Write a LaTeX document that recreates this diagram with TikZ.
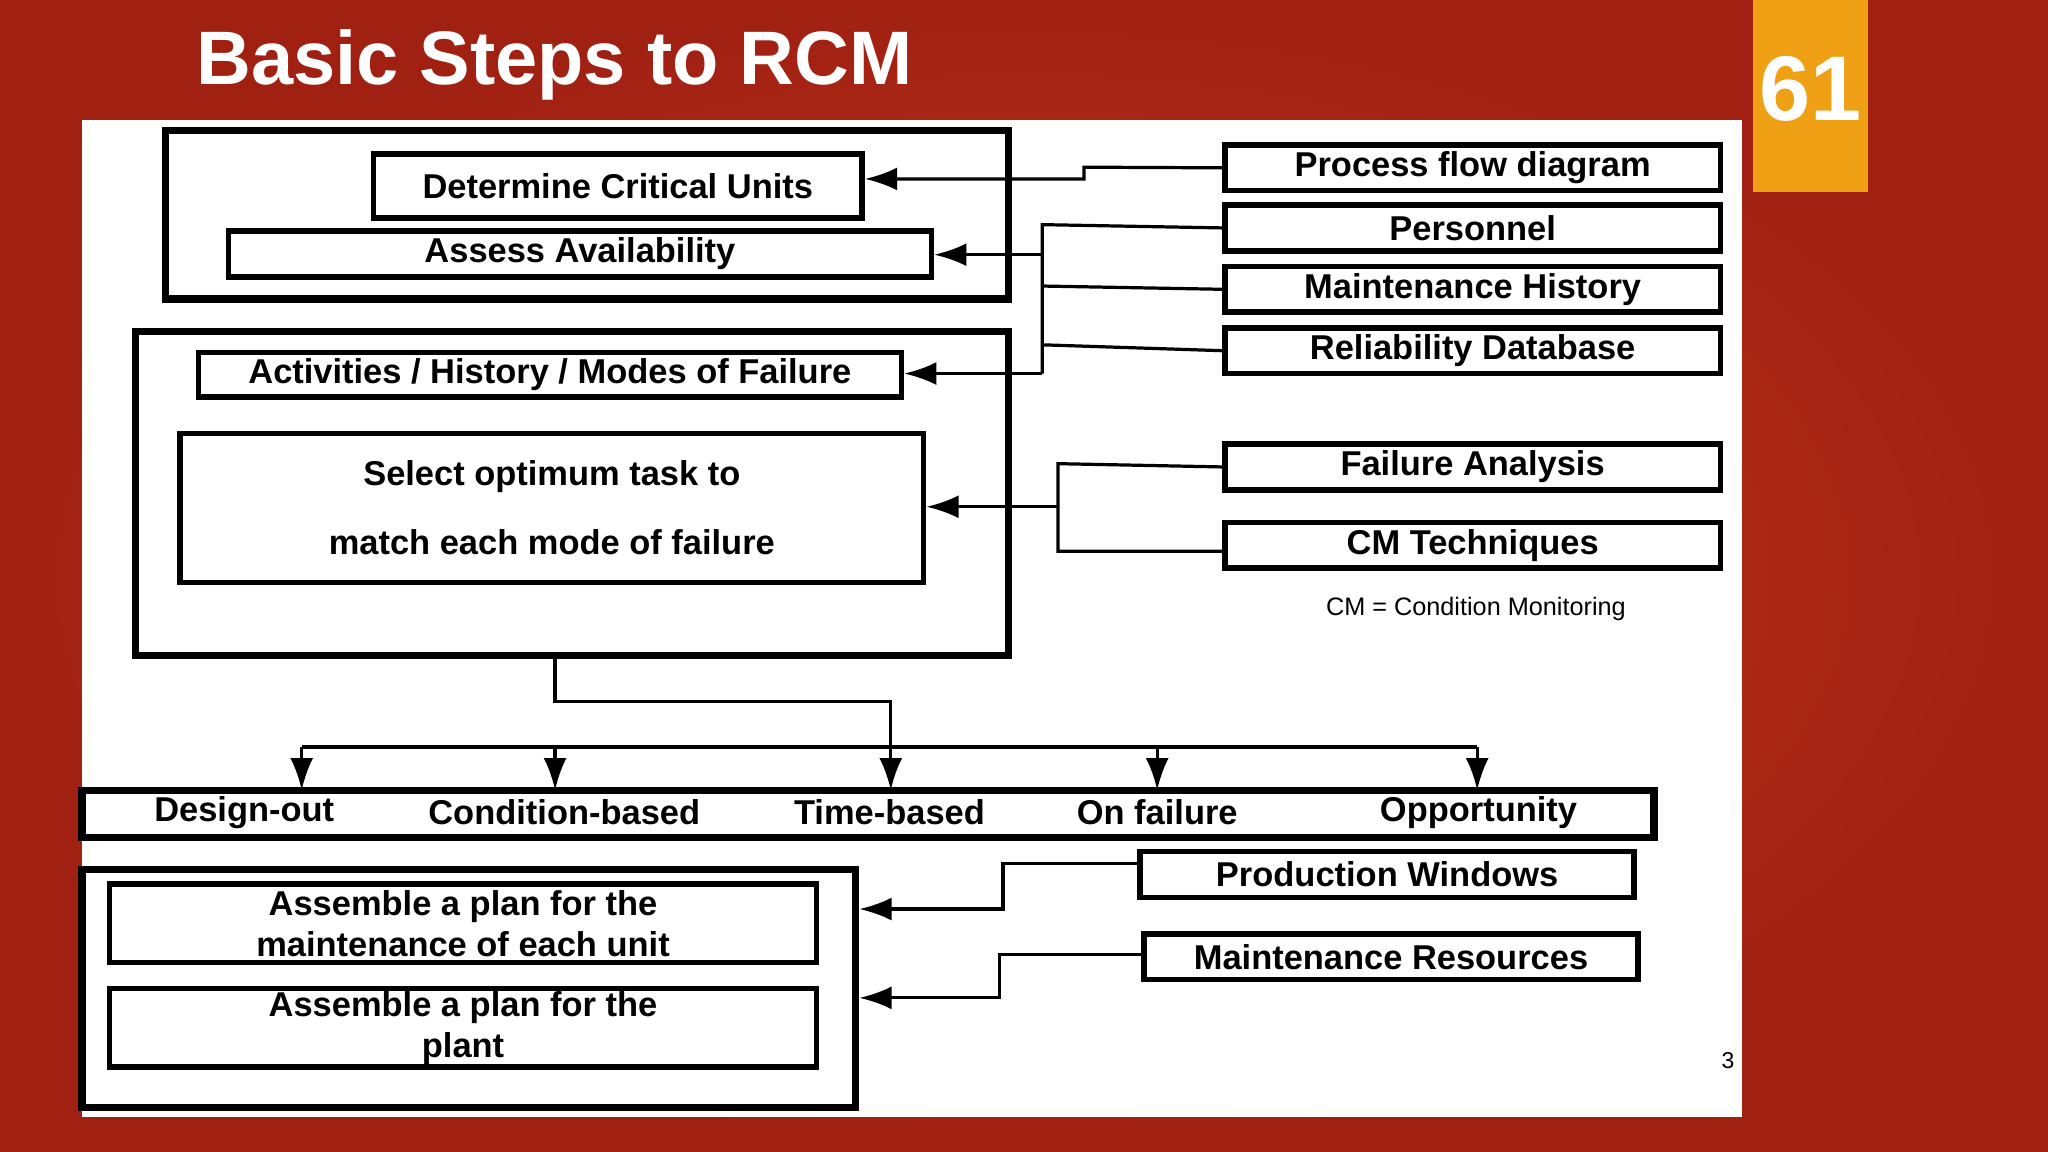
\documentclass[tikz,border=0pt]{standalone}
\usepackage{fontspec}
\setmainfont{Liberation Sans}
\usetikzlibrary{arrows.meta}
\definecolor{slidered}{RGB}{160,32,18}
\definecolor{slidelight}{RGB}{200,60,30}
\definecolor{numorange}{RGB}{240,160,20}
\tikzset{
  box/.style={draw, line width=1.2pt, inner sep=0pt, align=center, font=\fontsize{7.5}{9}\selectfont\bfseries},
  frame/.style={draw, line width=1.6pt, inner sep=0pt},
  link/.style={line width=0.7pt},
  arr/.style={line width=0.7pt, -{Latex[length=7pt,width=5pt]}}
}
\begin{document}
\begin{tikzpicture}[x=0.01cm, y=-0.01cm]
  % background
  \shade[inner color=slidelight, outer color=slidered] (0,0) rectangle (1568,882);
  \useasboundingbox (0,0) rectangle (1568,882);
  \fill[numorange] (1342,0) rectangle (1430,147);
  \node[text=white, font=\fontsize{20}{24}\selectfont\bfseries] (num) at (1386,68) {61};
  \node[anchor=west, text=white, font=\fontsize{16.5}{20}\selectfont\bfseries] (title) at (138,50) {Basic Steps to RCM};
  \fill[white] (63,92) rectangle (1334,855);

  % left column
  \node[frame, minimum width=6.45cm, minimum height=1.29cm] (top) at (449.5,164.5) {};
  \node[box, minimum width=3.74cm, minimum height=0.49cm] (dcu) at (473,142.5) {Determine Critical Units};
  \node[box, minimum width=5.38cm, minimum height=0.35cm] (aa) at (444,194.5) {Assess Availability};
  \node[frame, minimum width=6.68cm, minimum height=2.48cm] (mid) at (438,378) {};
  \node[box, minimum width=5.38cm, minimum height=0.34cm] (act) at (421,287) {Activities / History / Modes of Failure};
  \node[box, minimum width=5.69cm, minimum height=1.14cm] (sel) at (422.5,389) {Select optimum task to\\[6pt]match each mode of failure};

  % right column
  \node[box, minimum width=3.79cm, minimum height=0.35cm] (pf) at (1127.5,128.5) {Process flow diagram};
  \node[box, minimum width=3.79cm, minimum height=0.35cm] (pe) at (1127.5,174.5) {Personnel};
  \node[box, minimum width=3.79cm, minimum height=0.35cm] (mh) at (1127.5,221.5) {Maintenance History};
  \node[box, minimum width=3.79cm, minimum height=0.35cm] (rd) at (1127.5,268.5) {Reliability Database};
  \node[box, minimum width=3.79cm, minimum height=0.35cm] (fa) at (1127.5,357.5) {Failure Analysis};
  \node[box, minimum width=3.79cm, minimum height=0.35cm] (cm) at (1127.5,417.5) {CM Techniques};
  \node[font=\fontsize{5.5}{7}\selectfont] (note) at (1130,466) {CM = Condition Monitoring};

  % strategies
  \node[frame, minimum width=12.03cm, minimum height=0.36cm] (bar) at (664.5,623) {};
  \foreach \nm/\x/\txt in {dout/187/Design-out, cbas/432/Condition-based, tbas/681/Time-based, ofail/886/On failure, opp/1132/Opportunity}
    \node[font=\fontsize{7.5}{9}\selectfont\bfseries] (\nm) at (\x,622) {\txt};

  % plans
  \node[frame, minimum width=5.92cm, minimum height=1.82cm] (bot) at (359,757) {};
  \node[box, minimum width=5.41cm, minimum height=0.6cm] (pu) at (354.5,707) {Assemble a plan for the\\maintenance of each unit};
  \node[box, minimum width=5.41cm, minimum height=0.6cm] (pp) at (354.5,787) {Assemble a plan for the\\plant};
  \node[box, minimum width=3.78cm, minimum height=0.35cm] (pw) at (1062,669.5) {Production Windows};
  \node[box, minimum width=3.78cm, minimum height=0.35cm] (mr) at (1065,732.5) {Maintenance Resources};
  \node[font=\fontsize{5}{6}\selectfont] (pg) at (1323,812) {3};

  % connectors
  \draw[arr] (pf.west) -- (830,128) -- (830,137) -- (dcu.east |- 0,137);
  \draw[link] (pe.west) -- (798,172) -- (798,286);
  \draw[link] (mh.west) -- (798,219);
  \draw[link] (rd.west) -- (798,264);
  \draw[arr] (798,195) -- (aa.east |- 0,195);
  \draw[arr] (798,286) -- (act.east |- 0,286);
  \draw[link] (fa.west) -- (810,355) -- (810,422) -- (cm.west |- 0,422);
  \draw[arr] (810,388) -- (sel.east |- 0,388);
  \draw[link] (mid.south -| 425,0) -- (425,537) -- (682,537) -- (682,572);
  \draw[link] (231,572) -- (1131,572);
  \foreach \x in {231,425,682,886,1131}
    \draw[arr] (\x,572) -- (\x,605);
  \draw[arr] (pw.west |- 0,661) -- (768,661) -- (768,696) -- (bot.east |- 0,696);
  \draw[arr] (mr.west |- 0,731) -- (765,731) -- (765,764) -- (bot.east |- 0,764);
\end{tikzpicture}
\end{document}
